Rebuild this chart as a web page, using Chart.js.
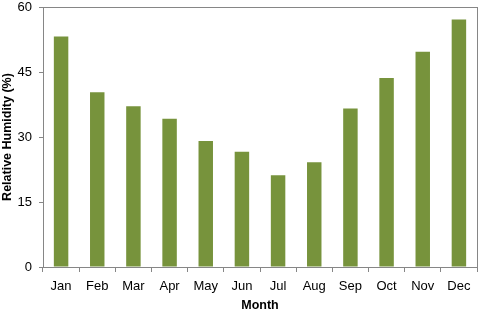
<!DOCTYPE html>
<html>
<head>
<meta charset="utf-8">
<script src="https://cdn.jsdelivr.net/npm/chart.js@4"></script>
<style>
  html, body { margin: 0; padding: 0; background: #fff; }
  #wrap { width: 480px; height: 311px; }
</style>
</head>
<body>
<div id="wrap"><canvas id="chart"></canvas></div>
<script>
const months = ['Jan', 'Feb', 'Mar', 'Apr', 'May', 'Jun', 'Jul', 'Aug', 'Sep', 'Oct', 'Nov', 'Dec'];
const humidity = [53.2, 40.3, 37.1, 34.2, 29.1, 26.6, 21.2, 24.2, 36.6, 43.6, 49.7, 57.1];
const yTicks = [0, 15, 30, 45, 60];

const axisGray = '#868686';

// plot box border on all four sides
const boxBorder = {
    id: 'boxBorder',
    afterDraw(chart) {
        const { ctx, chartArea: a } = chart;
        ctx.save();
        ctx.strokeStyle = axisGray;
        ctx.lineWidth = 1;
        ctx.strokeRect(Math.round(a.left) + 0.5, Math.round(a.top) + 0.5,
            Math.round(a.right - a.left), Math.round(a.bottom - a.top));
        ctx.restore();
    },
};

new Chart(document.getElementById('chart'), {
    type: 'bar',
    data: {
        labels: months,
        datasets: [{
            data: humidity,
            backgroundColor: '#77933C',
            borderWidth: 0,
            barPercentage: 0.4,
            categoryPercentage: 1,
        }],
    },
    options: {
        responsive: true,
        maintainAspectRatio: false,
        animation: false,
        layout: { padding: { top: 7, right: 3, left: 0, bottom: 0 } },
        plugins: {
            legend: { display: false },
            tooltip: { enabled: false },
        },
        scales: {
            x: {
                afterFit: (axis) => { axis.height = 44; },
                grid: { offset: true, drawOnChartArea: false, color: axisGray, tickLength: 5 },
                border: { color: axisGray },
                ticks: { color: '#000', font: { family: 'Liberation Sans', size: 13 }, padding: 7 },
                title: {
                    display: true, text: 'Month', color: '#000',
                    font: { family: 'Liberation Sans', size: 12.5, weight: 'bold', lineHeight: 0.85 },
                    padding: { top: 0, bottom: 0 },
                },
            },
            y: {
                min: 0, max: 60,
                afterFit: (axis) => { axis.width = 43; axis.paddingTop = 0; axis.paddingBottom = 0; },
                afterBuildTicks: (axis) => { axis.ticks = yTicks.map(v => ({ value: v })); },
                grid: { drawOnChartArea: false, color: axisGray, tickLength: 4 },
                border: { color: axisGray },
                ticks: { color: '#000', font: { family: 'Liberation Sans', size: 13 }, padding: 7 },
                title: {
                    display: true, text: 'Relative Humidity (%)', color: '#000',
                    font: { family: 'Liberation Sans', size: 12.5, weight: 'bold', lineHeight: 1.1 },
                    padding: { top: 1, bottom: 0 },
                },
            },
        },
    },
    plugins: [boxBorder],
});
</script>
</body>
</html>
